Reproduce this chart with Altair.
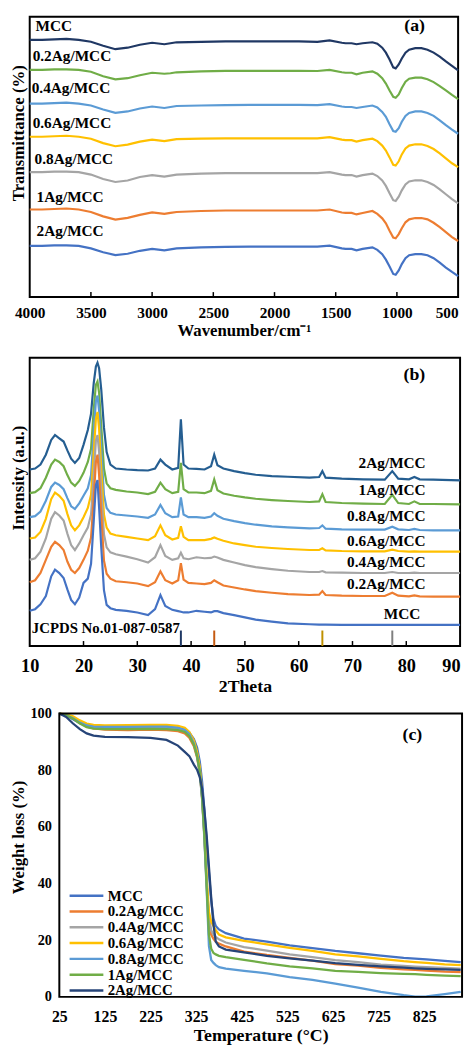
import altair as alt
import pandas as pd

FONT = "Liberation Serif"

# ---------------- (a) FTIR ----------------
wavenumber = [4000, 3900, 3800, 3700, 3600, 3500, 3400, 3300, 3200, 3100,
              3000, 2900, 2850, 2800, 2600, 2400, 2200, 2000, 1800, 1650,
              1550, 1450, 1420, 1370, 1330, 1280, 1200, 1160, 1120, 1090,
              1060, 1030, 1010, 985, 960, 930, 900, 850, 800, 750,
              700, 650, 600, 550, 500]
ftir_mcc = [261.5, 261.5, 262, 262.5, 261.5, 259.5, 255.5, 252, 253.5, 256.5,
            258.5, 257, 258, 259, 259.5, 260, 260, 260, 260, 259.5,
            261, 258.5, 258, 258, 257, 258, 259, 257.5, 253.5, 248.5,
            241.5, 233.5, 232.5, 236.5, 242.5, 248.5, 251.5, 253, 253, 251.5,
            248.5, 244.5, 239.5, 235, 230.5]
ftir_02 = [231, 231, 231.5, 231.5, 231, 229, 224.5, 221.3, 222.5, 225.5,
           228, 227, 227.5, 228.5, 229.5, 230, 230, 230, 230, 229.8,
           231, 228.5, 228, 228, 226.5, 228, 229.5, 227, 222.5, 217,
           210, 203.5, 202.7, 206, 212.5, 219, 222, 223, 223, 221.5,
           218.5, 214.5, 210, 205.5, 201.3]
ftir_04 = [196.7, 196.7, 197.2, 197.7, 196.7, 194.7, 190.7, 187.3, 188.7, 191.7,
           193.7, 192.2, 193.2, 194.2, 194.7, 195.2, 195.3, 195.3, 195.3, 195.2,
           196.2, 193.7, 193.2, 193.2, 192.2, 193.2, 194.7, 192.7, 188.2, 183.2,
           175.7, 168.7, 168, 171.7, 178.2, 184.2, 187.2, 188.7, 188.7, 187.2,
           184.2, 179.7, 174.7, 170.2, 166]
ftir_06 = [163, 163, 163.5, 164, 163, 161, 156.5, 153.3, 155, 158,
           160, 158.5, 159.5, 160.5, 161, 161.3, 161.3, 161.3, 161.3, 161.3,
           162.5, 160, 159.5, 159.5, 158, 159.5, 161, 158.5, 154, 149,
           142, 134.5, 133.7, 138, 145, 151, 154, 155.3, 155.3, 153.5,
           150.5, 146, 141, 136, 132]
ftir_08 = [127, 127, 127.5, 127.5, 127, 124.5, 120, 117, 118.5, 122,
           124, 122.5, 123.5, 124.5, 125.5, 126, 126, 126, 126, 126,
           127, 124.5, 124, 124, 122.5, 124, 125.5, 123, 118.5, 113,
           105.5, 98.5, 97.7, 102, 108.5, 114.5, 117.5, 118.7, 118.7, 117,
           114, 109.5, 104.5, 99.5, 95.3]
ftir_1 = [89, 89, 89.5, 90, 89, 86.5, 82, 78.7, 80.5, 83.5,
          86, 84.5, 85.5, 86.5, 87.5, 88, 88, 88, 88, 88,
          89, 86, 85.5, 85.5, 84, 85.5, 87.5, 84.5, 80, 75,
          67.5, 60.5, 59.7, 64, 70, 76, 79, 80.3, 80.3, 79,
          75.5, 71, 66, 61, 57]
ftir_2 = [52, 52, 52.5, 52.5, 52, 49.5, 45.5, 42.7, 44, 47,
          49, 47.5, 48.5, 49.5, 50.5, 51, 51.3, 51.3, 51.3, 51.3,
          52.3, 49.5, 49, 49, 47.5, 49, 50.5, 48, 43.5, 38,
          31, 23.5, 22.7, 27, 33.5, 39.5, 42.5, 43.7, 43.7, 42.5,
          39.5, 35, 30, 25.5, 21.3]
ftir_names = ["MCC", "0.2Ag/MCC", "0.4Ag/MCC", "0.6Ag/MCC", "0.8Ag/MCC", "1Ag/MCC", "2Ag/MCC"]
ftir_series = [ftir_mcc, ftir_02, ftir_04, ftir_06, ftir_08, ftir_1, ftir_2]
ftir_colors = ["#203864", "#70AD47", "#5B9BD5", "#FFC000", "#A5A5A5", "#ED7D31", "#4472C4"]
ftir_label_wn = [3952, 3976, 3984, 3976, 3960, 3944, 3944]
ftir_label_t = [275, 245, 212, 177, 140, 102, 67]
ftir_ticks = [3500, 3000, 2500, 2000, 1500, 1000]

# ---------------- (b) XRD ----------------
theta = [10, 11, 12, 13, 14, 14.7, 15.5, 16.3, 17, 17.7,
         18.4, 19.2, 20, 20.8, 21.4, 21.9, 22.3, 22.6, 22.9, 23.3,
         23.8, 24.3, 25, 26, 28, 30, 32, 33.3, 34.3, 35.2,
         36.5, 37.6, 38.1, 38.6, 39.5, 41, 42.5, 43.7, 44.3, 44.9,
         46, 48, 50, 52, 55, 58, 62, 63.8, 64.4, 65,
         68, 72, 76, 77.4, 78.5, 80.5, 81.5, 82.5, 85, 90]
xrd_2 = [537, 540, 552, 582, 627, 642, 632, 622, 595, 570,
         557, 572, 612, 657, 707, 800, 850, 862, 845, 780,
         665, 590, 552, 540, 537, 535, 534, 540, 567, 552,
         537, 542, 690, 552, 540, 539, 537, 547, 582, 550,
         540, 532, 526, 521, 517, 515, 512, 514, 532, 512,
         509, 507, 506, 532, 509, 507, 514, 507, 506, 504]
xrd_1 = [465, 468, 480, 512, 552, 567, 560, 547, 520, 497,
         487, 502, 527, 560, 600, 720, 795, 805, 770, 670,
         540, 495, 480, 475, 470, 467, 462, 469, 497, 477,
         465, 469, 557, 477, 467, 467, 465, 472, 507, 474,
         464, 457, 452, 448, 444, 441, 438, 440, 462, 438,
         435, 433, 432, 460, 435, 432, 440, 432, 432, 431]
xrd_08 = [392, 395, 409, 442, 484, 497, 490, 477, 450, 425,
          417, 434, 457, 480, 520, 650, 745, 762, 715, 600,
          460, 420, 405, 400, 397, 394, 390, 400, 429, 404,
          392, 394, 452, 400, 392, 392, 390, 394, 404, 396,
          387, 380, 374, 369, 364, 361, 358, 359, 367, 357,
          355, 354, 354, 363, 355, 353, 356, 353, 352, 352]
xrd_06 = [327, 330, 347, 387, 447, 467, 457, 442, 402, 367,
          352, 367, 392, 420, 460, 590, 690, 712, 660, 540,
          400, 360, 342, 337, 332, 327, 322, 334, 367, 337,
          324, 329, 364, 332, 322, 322, 322, 326, 330, 326,
          320, 312, 307, 302, 298, 295, 292, 292, 297, 291,
          289, 288, 288, 293, 289, 287, 288, 287, 287, 287]
xrd_04 = [262, 267, 287, 327, 387, 407, 397, 382, 342, 307,
          292, 312, 337, 360, 400, 520, 625, 642, 590, 470,
          340, 300, 285, 279, 272, 264, 254, 270, 307, 274,
          262, 267, 284, 267, 264, 270, 267, 268, 272, 269,
          262, 254, 246, 240, 234, 229, 225, 225, 228, 224,
          223, 222, 222, 225, 222, 222, 223, 222, 222, 222]
xrd_02 = [194, 200, 222, 262, 302, 317, 307, 292, 257, 232,
          222, 237, 262, 290, 330, 450, 560, 582, 520, 400,
          260, 220, 205, 197, 194, 190, 182, 194, 227, 200,
          190, 200, 252, 202, 192, 190, 188, 192, 200, 194,
          184, 178, 172, 167, 162, 158, 155, 156, 167, 155,
          153, 152, 152, 162, 153, 151, 154, 151, 150, 150]
xrd_mcc = [107, 112, 127, 152, 212, 232, 222, 207, 172, 140,
           127, 147, 192, 205, 250, 380, 490, 505, 420, 300,
           170, 125, 115, 110, 107, 102, 94, 112, 155, 122,
           110, 106, 104, 102, 102, 107, 104, 102, 106, 106,
           100, 94, 87, 80, 74, 69, 66, 65, 65, 65,
           64, 64, 64, 64, 64, 64, 64, 64, 64, 64]
xrd_names = ["2Ag/MCC", "1Ag/MCC", "0.8Ag/MCC", "0.6Ag/MCC", "0.4Ag/MCC", "0.2Ag/MCC", "MCC"]
xrd_series = [xrd_2, xrd_1, xrd_08, xrd_06, xrd_04, xrd_02, xrd_mcc]
xrd_colors = ["#255E91", "#70AD47", "#5B9BD5", "#FFC000", "#A5A5A5", "#ED7D31", "#4472C4"]
xrd_label_theta = [83.6, 83.6, 83.6, 83.6, 83.6, 83.6, 82.6]
xrd_label_i = [557, 475, 395, 320, 254, 189, 97]
jcpds_theta = [38.1, 44.3, 64.4, 77.4]
jcpds_top = [47, 47, 47, 47]
jcpds_colors = ["#1F3864", "#C55A11", "#BF9000", "#7F7F7F"]
xrd_ticks = [20, 30, 40, 50, 60, 70, 80]

# ---------------- (c) TGA ----------------
temperature = [25, 40, 55, 70, 85, 100, 125, 175, 225, 260,
               285, 300, 310, 320, 327, 333, 338, 343, 348, 353,
               358, 363, 368, 375, 390, 430, 480, 530, 580, 630,
               680, 730, 780, 805, 830, 870, 905]
tga_mcc = [100, 99.3, 98, 96.6, 95.8, 95.4, 95.1, 95.1, 95.2, 95.2,
           95, 94.3, 93.3, 91, 88, 83, 76, 66, 55, 44,
           34, 27.5, 25, 23.8, 22.5, 20.6, 19.5, 18.2, 17.2, 16.2,
           15.4, 14.6, 13.8, 13.5, 13.2, 12.7, 12.3]
tga_02 = [100, 99.5, 98.5, 96.8, 95.4, 94.8, 94.3, 94.2, 94.3, 94.2,
          93.8, 93, 91.5, 88.5, 84.5, 79, 70, 57, 40, 27,
          22, 20.5, 19.5, 18.8, 17.8, 16, 14.8, 13.8, 12.8, 11.6,
          11, 10.2, 9.7, 9.5, 9.3, 8.9, 8.7]
tga_04 = [100, 99.5, 98.6, 97, 95.8, 95.2, 95, 95, 95.1, 95,
          94.6, 93.8, 92.3, 89.5, 85.5, 80, 71, 58, 41, 28,
          23.5, 22, 21.2, 20.3, 19.2, 17.6, 16.3, 15, 14, 13,
          12.3, 11.4, 10.9, 10.7, 10.5, 10.2, 10]
tga_06 = [100, 99.7, 99, 97.6, 96.5, 96, 95.8, 95.9, 96, 96,
          95.7, 95, 93.5, 90.5, 86.5, 81, 72, 59, 42, 30,
          26.5, 25, 23.5, 22, 21, 19.8, 18.5, 17.3, 16.2, 15,
          14.3, 13.4, 12.6, 12.3, 12, 11.5, 11.2]
tga_08 = [100, 99.5, 98.4, 96.8, 95.8, 95.4, 95.3, 95.3, 95.4, 95.4,
          95, 94.2, 92.8, 89.5, 85, 79, 70, 56, 38, 18,
          13, 12, 11.2, 10.5, 10, 9.2, 8.3, 7, 6, 4.7,
          3.3, 1.8, 0.6, 0.1, 0.2, 1, 1.8]
tga_1 = [100, 99.4, 98.2, 96.5, 95.2, 94.7, 94.5, 94.5, 94.6, 94.5,
         94.2, 93.5, 92, 89, 85, 79.5, 70.5, 57, 39, 22,
         17, 15.5, 15, 14.5, 14, 13.1, 11.8, 10.8, 10.1, 9.2,
         8.8, 8.4, 8.1, 8, 7.8, 7.5, 7.3]
tga_2 = [100, 98.8, 96.5, 94.5, 93, 92.2, 91.8, 91.7, 91.4, 90.7,
         88.7, 86.5, 85, 82, 80.2, 77.5, 73.6, 66, 57, 46,
         35, 25.5, 19.5, 17.8, 16.7, 15.7, 14.5, 13.6, 12.8, 11.9,
         11.3, 10.8, 10.3, 10.1, 9.9, 9.7, 9.5]
tga_names = ["MCC", "0.2Ag/MCC", "0.4Ag/MCC", "0.6Ag/MCC", "0.8Ag/MCC", "1Ag/MCC", "2Ag/MCC"]
tga_series = [tga_mcc, tga_02, tga_04, tga_06, tga_08, tga_1, tga_2]
tga_colors = ["#4472C4", "#ED7D31", "#A5A5A5", "#FFC000", "#5B9BD5", "#70AD47", "#264478"]
tga_temp_range = [25, 908]
tga_weight_range = [0, 100]


def long_frame(xname, xs, yname, names, series):
    rows = []
    for name, vals in zip(names, series):
        for xv, yv in zip(xs, vals):
            rows.append({xname: xv, yname: yv, "series": name})
    return pd.DataFrame(rows)


TXT = dict(font=FONT, fontWeight="bold", color="black")
AX = dict(labelFont=FONT, titleFont=FONT, labelFontWeight="bold", titleFontWeight="bold",
          labelColor="black", titleColor="black", grid=False, domain=False, ticks=False, tickSize=0,
          minExtent=0)

# ---------- panel a ----------
WA, HA = 434, 284
df_a = long_frame("wn", wavenumber, "t", ftir_names, ftir_series)
xa = alt.X("wn:Q", scale=alt.Scale(domain=[4000, 500], nice=False, zero=False),
           axis=alt.Axis(values=[4000, 3500, 3000, 2500, 2000, 1500, 1000, 500], format="d",
                         labelFontSize=15.5, labelPadding=9, labelFlush=False, labelOverlap=False,
                         labelAlign={"condition": {"test": "datum.value == 500", "value": "right"},
                                     "value": "center"},
                         title="Wavenumber/cm⁻¹", titleFontSize=17, titlePadding=1, **AX))
ya = alt.Y("t:Q", scale=alt.Scale(domain=[0, 285], nice=False),
           axis=alt.Axis(labels=False, title="Transmittance (%)", titleFontSize=17,
                         titleX=-2, titleY=117.5, titleAngle=270, titleBaseline="bottom", **AX))
layers_a = []
for name, col in zip(ftir_names, ftir_colors):
    layers_a.append(alt.Chart(df_a).transform_filter(alt.datum.series == name)
                    .mark_line(strokeWidth=2.2, color=col).encode(x=xa, y=ya))
lab_a = alt.Chart(pd.DataFrame({"wn": ftir_label_wn, "t": ftir_label_t, "txt": ftir_names})).mark_text(
    align="left", baseline="middle", fontSize=15.5, **TXT).encode(x="wn:Q", y="t:Q", text="txt:N")
tag_a = alt.Chart(pd.DataFrame({"wn": [855], "t": [276], "txt": ["(a)"]})).mark_text(
    align="center", baseline="middle", fontSize=18, **TXT).encode(x="wn:Q", y="t:Q", text="txt:N")
tick_a = alt.Chart(pd.DataFrame({"wn": ftir_ticks})).mark_rule(color="black", strokeWidth=1.5).encode(
    x="wn:Q", y=alt.value(HA - 5), y2=alt.value(HA))
panel_a = alt.layer(*layers_a, lab_a, tag_a, tick_a).properties(width=WA, height=HA)

# ---------- panel b ----------
WB, HB = 436, 292
df_b = long_frame("theta", theta, "i", xrd_names, xrd_series)
xb = alt.X("theta:Q", scale=alt.Scale(domain=[10, 90], nice=False),
           axis=alt.Axis(values=[10, 20, 30, 40, 50, 60, 70, 80, 90], format="d",
                         labelFontSize=18.5, labelPadding=11, labelFlush=False, labelOverlap=False,
                         labelAlign={"condition": {"test": "datum.value == 90", "value": "right"},
                                     "value": "center"},
                         title="2Theta", titleFontSize=18, titlePadding=3, **AX))
yb = alt.Y("i:Q", scale=alt.Scale(domain=[0, 877], nice=False),
           axis=alt.Axis(labels=False, title="Intensity (a.u.)", titleFontSize=17,
                         titleX=-2, titleY=121.5, titleAngle=270, titleBaseline="bottom", **AX))
layers_b = []
for name, col in zip(xrd_names, xrd_colors):
    layers_b.append(alt.Chart(df_b).transform_filter(alt.datum.series == name)
                    .mark_line(strokeWidth=2.2, color=col).encode(x=xb, y=yb))
lab_b = alt.Chart(pd.DataFrame({"theta": xrd_label_theta, "i": xrd_label_i, "txt": xrd_names})).mark_text(
    align="right", baseline="middle", fontSize=15.5, **TXT).encode(x="theta:Q", y="i:Q", text="txt:N")
tag_b = alt.Chart(pd.DataFrame({"theta": [81.5], "i": [824], "txt": ["(b)"]})).mark_text(
    align="center", baseline="middle", fontSize=18, **TXT).encode(x="theta:Q", y="i:Q", text="txt:N")
jc_b = alt.Chart(pd.DataFrame({"theta": [10.4], "i": [54], "txt": ["JCPDS No.01-087-0587"]})).mark_text(
    align="left", baseline="middle", fontSize=15, **TXT).encode(x="theta:Q", y="i:Q", text="txt:N")
ref_b = alt.Chart(pd.DataFrame({"theta": jcpds_theta, "base": [0, 0, 0, 0], "top": jcpds_top,
                                "col": jcpds_colors})).mark_rule(strokeWidth=2).encode(
    x="theta:Q", y="base:Q", y2="top:Q", color=alt.Color("col:N", scale=None))
tick_b = alt.Chart(pd.DataFrame({"theta": xrd_ticks})).mark_rule(color="black", strokeWidth=1.5).encode(
    x="theta:Q", y=alt.value(HB - 5), y2=alt.value(HB))
panel_b = alt.layer(*layers_b, ref_b, lab_b, tag_b, jc_b, tick_b).properties(width=WB, height=HB)

# ---------- panel c ----------
# the panel's group starts 30 px left of its data frame; the y axis is moved onto the frame
WC, HC, LC = 438, 287, 30
df_c = long_frame("temp", temperature, "w", tga_names, tga_series)
xc = alt.X("temp:Q", scale=alt.Scale(domain=tga_temp_range, range=[LC, WC], nice=False),
           axis=alt.Axis(values=[25, 125, 225, 325, 425, 525, 625, 725, 825], format="d",
                         labelFontSize=16, labelPadding=12, labelFlush=False, labelOverlap=False,
                         title="Temperature (°C)", titleFontSize=18, titlePadding=2, **AX))
yc = alt.Y("w:Q", scale=alt.Scale(domain=tga_weight_range, nice=False),
           axis=alt.Axis(values=[0, 10, 20, 30, 40, 50, 60, 70, 80, 90, 100], format="d",
                         labelFontSize=14.5, labelPadding=8, offset=-LC,
                         title="Weight loss (%)", titleFontSize=17, titleX=-32, titleY=125,
                         titleAngle=270, titleBaseline="bottom", **AX))
lines_c = alt.Chart(df_c).mark_line(strokeWidth=2.3).encode(
    x=xc, y=yc,
    color=alt.Color("series:N", sort=tga_names,
                    scale=alt.Scale(domain=tga_names, range=tga_colors),
                    legend=alt.Legend(title=None, orient="none", legendX=50, legendY=177,
                                      symbolType="M-2.85,0H2.85", symbolSize=144, symbolStrokeWidth=2.5,
                                      labelFont=FONT, labelFontSize=15, labelFontWeight="bold",
                                      labelColor="black", labelOffset=14, rowPadding=0, padding=0)))
frame_c = alt.Chart(pd.DataFrame({"t0": [tga_temp_range[0]], "t1": [tga_temp_range[1]],
                                  "w0": [tga_weight_range[0]], "w1": [tga_weight_range[1]]})).mark_rect(
    fillOpacity=0, stroke="black", strokeWidth=2).encode(x="t0:Q", x2="t1:Q", y="w0:Q", y2="w1:Q")
tag_c = alt.Chart(pd.DataFrame({"temp": [799], "w": [92.5], "txt": ["(c)"]})).mark_text(
    align="center", baseline="middle", fontSize=18, **TXT).encode(x="temp:Q", y="w:Q", text="txt:N")
panel_c = alt.layer(lines_c, frame_c, tag_c).properties(
    width=WC, height=HC, view=alt.ViewBackground(strokeOpacity=0))

top = alt.vconcat(panel_a, panel_b, spacing=17.5).resolve_scale(color="independent")
chart = alt.vconcat(top, panel_c, spacing=9).resolve_scale(color="independent").properties(
    padding=0
).configure_view(stroke="black", strokeWidth=2)

chart.save("out.html", embed_options={"renderer": "svg", "actions": False})
